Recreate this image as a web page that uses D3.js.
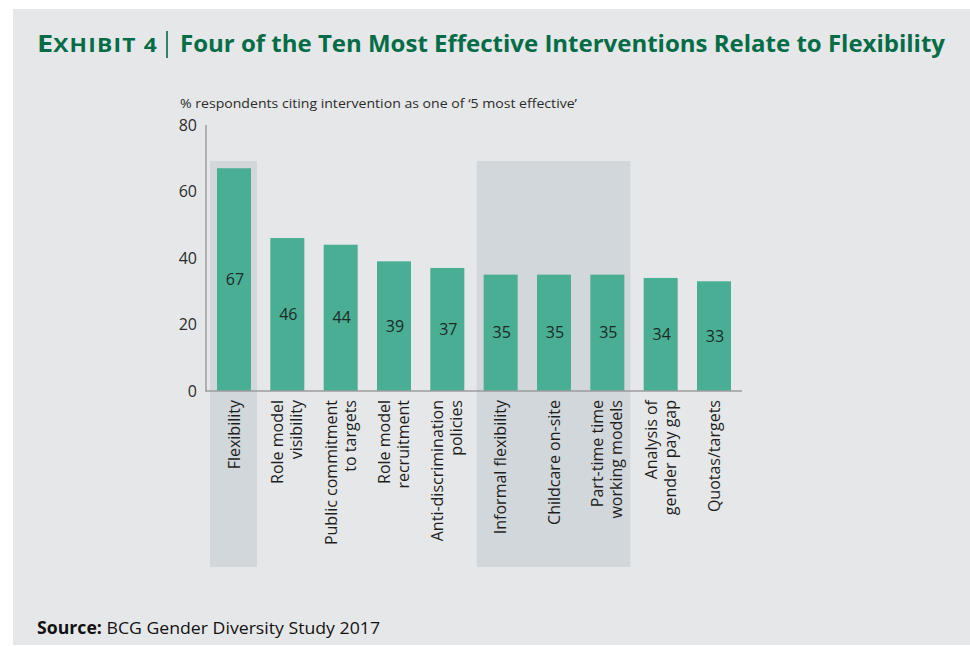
<!DOCTYPE html>
<html><head><meta charset="utf-8">
<script src="https://cdn.jsdelivr.net/npm/d3@7"></script>
<style>
html,body{margin:0;padding:0;background:#fff;}
svg{display:block;}
</style></head>
<body>
<svg id="chart" width="970" height="646"></svg>
<script>
const categories = ["Flexibility","Role model visibility","Public commitment to targets","Role model recruitment","Anti-discrimination policies","Informal flexibility","Childcare on-site","Part-time time working models","Analysis of gender pay gap","Quotas/targets"];
const categoryLines = [["Flexibility"],["Role model","visibility"],["Public commitment","to targets"],["Role model","recruitment"],["Anti-discrimination","policies"],["Informal flexibility"],["Childcare on-site"],["Part-time time","working models"],["Analysis of","gender pay gap"],["Quotas/targets"]];
const values = [67,46,44,39,37,35,35,35,34,33];
const yTicks = [0,20,40,60,80];
const highlightGroups = [["Flexibility"],["Informal flexibility","Childcare on-site","Part-time time working models"]];

const svg = d3.select("#chart");
const green = "#046d47";
const font = "'Open Sans', 'Noto Sans', sans-serif";

svg.append("rect").attr("x",13).attr("y",9).attr("width",957).attr("height",636).attr("fill","#e6e7e9");

// Title
const title = svg.append("text").attr("x",37).attr("y",52).attr("fill",green)
  .attr("font-family",font).attr("font-weight",700);
title.append("tspan").attr("font-size",24).text("E");
title.append("tspan").attr("font-size",19).attr("letter-spacing",1).text("XHIBIT 4");
title.attr("textLength",121).attr("lengthAdjust","spacingAndGlyphs");
svg.append("line").attr("x1",167).attr("x2",167).attr("y1",31).attr("y2",58).attr("stroke",green).attr("stroke-width",1.6);
svg.append("text").attr("x",180).attr("y",52).attr("fill",green).attr("font-family",font)
  .attr("font-weight",700).attr("font-size",24)
  .attr("textLength",765).attr("lengthAdjust","spacingAndGlyphs")
  .text("Four of the Ten Most Effective Interventions Relate to Flexibility");

// subtitle
svg.append("text").attr("x",180).attr("y",108).attr("fill","#2b2b2b").attr("font-family",font)
  .attr("font-size",13.5).attr("textLength",397).attr("lengthAdjust","spacingAndGlyphs")
  .text("% respondents citing intervention as one of \u20185 most effective\u2019");

const x = d3.scaleBand().domain(categories).range([217,731]).paddingInner(0.3625).paddingOuter(0);
const y = d3.scaleLinear().domain([0,80]).range([391,125]);

// highlight panels
highlightGroups.forEach(g=>{
  const x0 = x(g[0]) - 7, x1 = x(g[g.length-1]) + x.bandwidth() + 6;
  svg.append("rect").attr("x",x0).attr("y",161).attr("width",x1-x0).attr("height",567-161).attr("fill","#d2d7db");
});

// bars
svg.append("g").selectAll("rect").data(values).join("rect")
  .attr("x",(d,i)=>x(categories[i])).attr("width",x.bandwidth())
  .attr("y",d=>y(d)).attr("height",d=>y(0)-y(d)).attr("fill","#4aae94");

// value labels
svg.append("g").selectAll("text").data(values).join("text")
  .attr("x",(d,i)=>x(categories[i])+x.bandwidth()/2+1)
  .attr("y",d=>(y(d)+y(0))/2).attr("dy","0.35em").attr("text-anchor","middle")
  .attr("font-family",font).attr("font-size",16).attr("fill","#1c2a28").text(d=>d);

// axes
const yAxis = d3.axisLeft(y).tickValues(yTicks).tickSize(0).tickPadding(9);
const ga = svg.append("g").attr("transform","translate(206,0)").call(yAxis);
ga.select(".domain").remove();
ga.selectAll("text").attr("font-family",font).attr("font-size",16).attr("fill","#2b2b2b");
svg.append("line").attr("x1",206).attr("x2",206).attr("y1",125).attr("y2",391.5).attr("stroke","#9a9c9e").attr("stroke-width",1.5);
svg.append("line").attr("x1",205.25).attr("x2",742).attr("y1",391).attr("y2",391).attr("stroke","#9a9c9e").attr("stroke-width",1.5);

// category labels
categories.forEach((c,i)=>{
  const lines = categoryLines[i];
  const cx = x(c) + x.bandwidth()/2;
  lines.forEach((ln,j)=>{
    const off = (j - (lines.length-1)/2) * 19;
    svg.append("text").attr("transform",`translate(${cx+off},400) rotate(-90)`)
      .attr("text-anchor","end").attr("dy","0.35em")
      .attr("font-family",font).attr("font-size",16).attr("fill","#1e1e1e").text(ln);
  });
});

// source
const src = svg.append("text").attr("x",37).attr("y",634).attr("font-family",font).attr("font-size",17).attr("fill","#111")
  .attr("textLength",343).attr("lengthAdjust","spacingAndGlyphs");
src.append("tspan").attr("font-weight",700).text("Source:");
src.append("tspan").text(" BCG Gender Diversity Study 2017");
</script>
</body></html>
